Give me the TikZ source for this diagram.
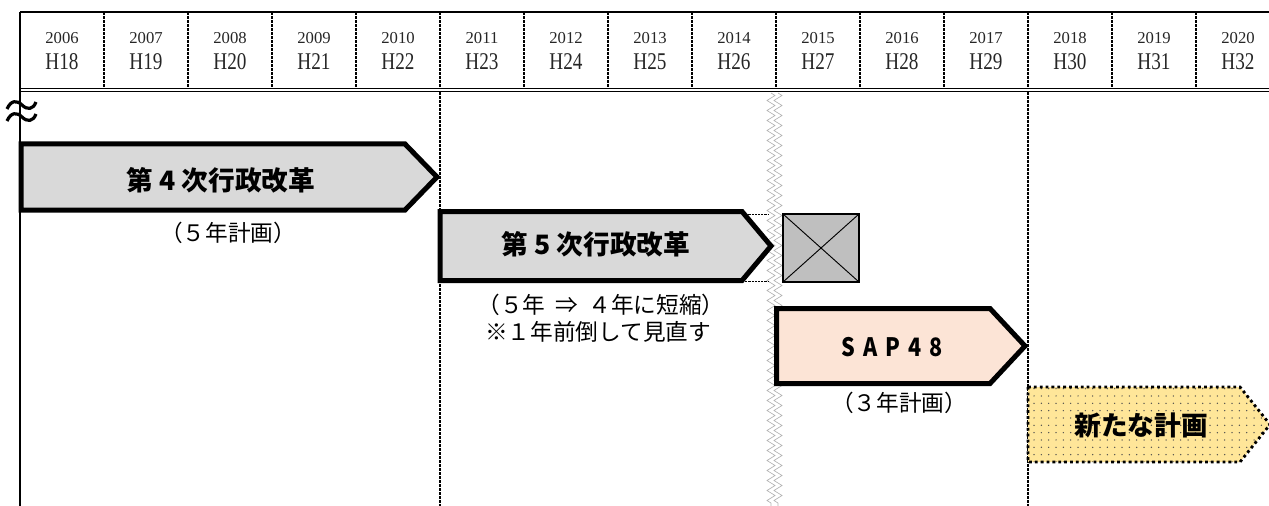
\documentclass[tikz,border=0pt]{standalone}
\usepackage{fontspec}
\setmainfont{Liberation Serif}
\newfontfamily\jp{Noto Sans CJK JP}
\newfontfamily\jpc[FakeStretch=0.85]{Noto Sans CJK JP}
\newfontfamily\hdr[FakeStretch=0.8]{Liberation Serif}
\usetikzlibrary{patterns.meta,decorations.pathmorphing}
\definecolor{arrgray}{HTML}{D9D9D9}
\definecolor{xgray}{HTML}{BFBFBF}
\definecolor{sapfill}{HTML}{FCE4D6}
\definecolor{newfill}{HTML}{FFE699}
\tikzset{
  yrlbl/.style={font=\fontsize{12.5}{12.5}\selectfont, text=black!85, inner sep=0pt},
  hlbl/.style={font=\hdr\fontsize{18}{18}\selectfont, text=black!85, inner sep=0pt},
  ttl/.style={font=\jp\bfseries\fontsize{20}{20}\selectfont, inner sep=0pt},
  sublbl/.style={font=\jp\fontsize{17}{17}\selectfont, inner sep=0pt},
  bigarrow/.style={draw=black, line width=3.75pt, miter limit=10},
  colsep/.style={dash pattern=on 2.2pt off 0.8pt, line width=1.1pt},
  bodysep/.style={dash pattern=on 2.2pt off 0.8pt, line width=0.9pt},
  thindash/.style={dash pattern=on 1.6pt off 0.8pt, line width=0.75pt},
  zz/.style={draw=black!30, line width=0.5pt, decorate,
    decoration={zigzag, segment length=7.5pt, amplitude=3pt}},
  dotborder/.style={draw=black, line width=2.1pt, dash pattern=on 2.1pt off 2.3pt},
}
\begin{document}
\begin{tikzpicture}[x=0.75pt,y=-0.75pt]
\useasboundingbox (0,0) rectangle (1269,506);
\clip (0,0) rectangle (1269,506);

% header
\draw[line width=1.5pt] (20,12) -- (1275,12);
\draw[line width=1.4pt] (20,88.5) -- (1275,88.5);
\draw[line width=1.4pt] (20,91.5) -- (1275,91.5);
\foreach \k in {0,...,14}{
  \draw[colsep] ({104+84*\k},12) -- ({104+84*\k},87);
}
\foreach \i in {0,...,14}{
  \pgfmathtruncatemacro\yrv{2006+\i}
  \pgfmathtruncatemacro\hyv{18+\i}
  \node[yrlbl] (y\i) at ({62+84*\i},38) {\yrv};
  \node[hlbl] (h\i) at ({62+84*\i},62) {H\hyv};
}

% body separators
\draw[line width=1.5pt] (20,12) -- (20,506);
\draw[bodysep] (440,92) -- (440,506);
\draw[bodysep] (1028,92) -- (1028,506);

% zigzag break line
\draw[zz] (771,93) -- (771,506);
\draw[zz] (778,93) -- (778,506);

% approx sign
\draw[line width=2.4pt] (7,109) .. controls (11,100) and (17,100) .. (22,105)
  .. controls (27,110) and (33,110) .. (36,102);
\draw[line width=2.4pt] (7,121) .. controls (11,112) and (17,112) .. (22,117)
  .. controls (27,122) and (33,122) .. (36,114);

% arrow 1
\path[bigarrow, fill=arrgray] (21,144) -- (405,144) -- (437,177) -- (405,210) -- (21,210) -- cycle;
\node[ttl] (t4) at (221,180) {第 4 次行政改革};
\node[sublbl] (s4) at (228,233) {（５年計画）};

% arrow 2
\draw[thindash] (742,214) -- (768,214);
\draw[thindash] (742,281) -- (768,281);
\path[bigarrow, fill=arrgray] (440,211.5) -- (742,211.5) -- (771,246) -- (742,280.5) -- (440,280.5) -- cycle;
\node[ttl] (t5) at (596,244) {第 5 次行政改革};
\node[sublbl] (s5a) at (601,305) {（５年\hspace{0.45em}⇒\hspace{0.45em}４年に短縮）};
\node[sublbl] (s5b) at (598,332) {※１年前倒して見直す};

% cancelled box
\draw[fill=xgray, line width=1.3pt] (783,214) rectangle (859,282);
\draw[line width=0.7pt] (783,214) -- (859,282);
\draw[line width=0.7pt] (783,282) -- (859,214);

% arrow 3
\path[bigarrow, fill=sapfill] (776.5,308.5) -- (990,308.5) -- (1025,346) -- (990,383.5) -- (776.5,383.5) -- cycle;
\node[font=\jpc\bfseries\fontsize{19}{19}\selectfont, inner sep=0pt] (sap) at (892,347) {S\hspace{6pt}A\hspace{6pt}P\hspace{6pt}4\hspace{6pt}8};
\node[sublbl] (s3) at (899,403) {（３年計画）};

% arrow 4
\fill[newfill] (1028,387) -- (1240,387) -- (1270,424.5) -- (1240,462) -- (1028,462) -- cycle;
\fill[pattern={Dots[radius=0.55pt, distance=5.5pt]}, pattern color=black!70] (1028,387) -- (1240,387) -- (1270,424.5) -- (1240,462) -- (1028,462) -- cycle;
\draw[dotborder] (1028,387) -- (1240,387) -- (1270,424.5) -- (1240,462) -- (1028,462) -- cycle;
\node[ttl] (nw) at (1141,425) {新たな計画};
\end{tikzpicture}
\end{document}
